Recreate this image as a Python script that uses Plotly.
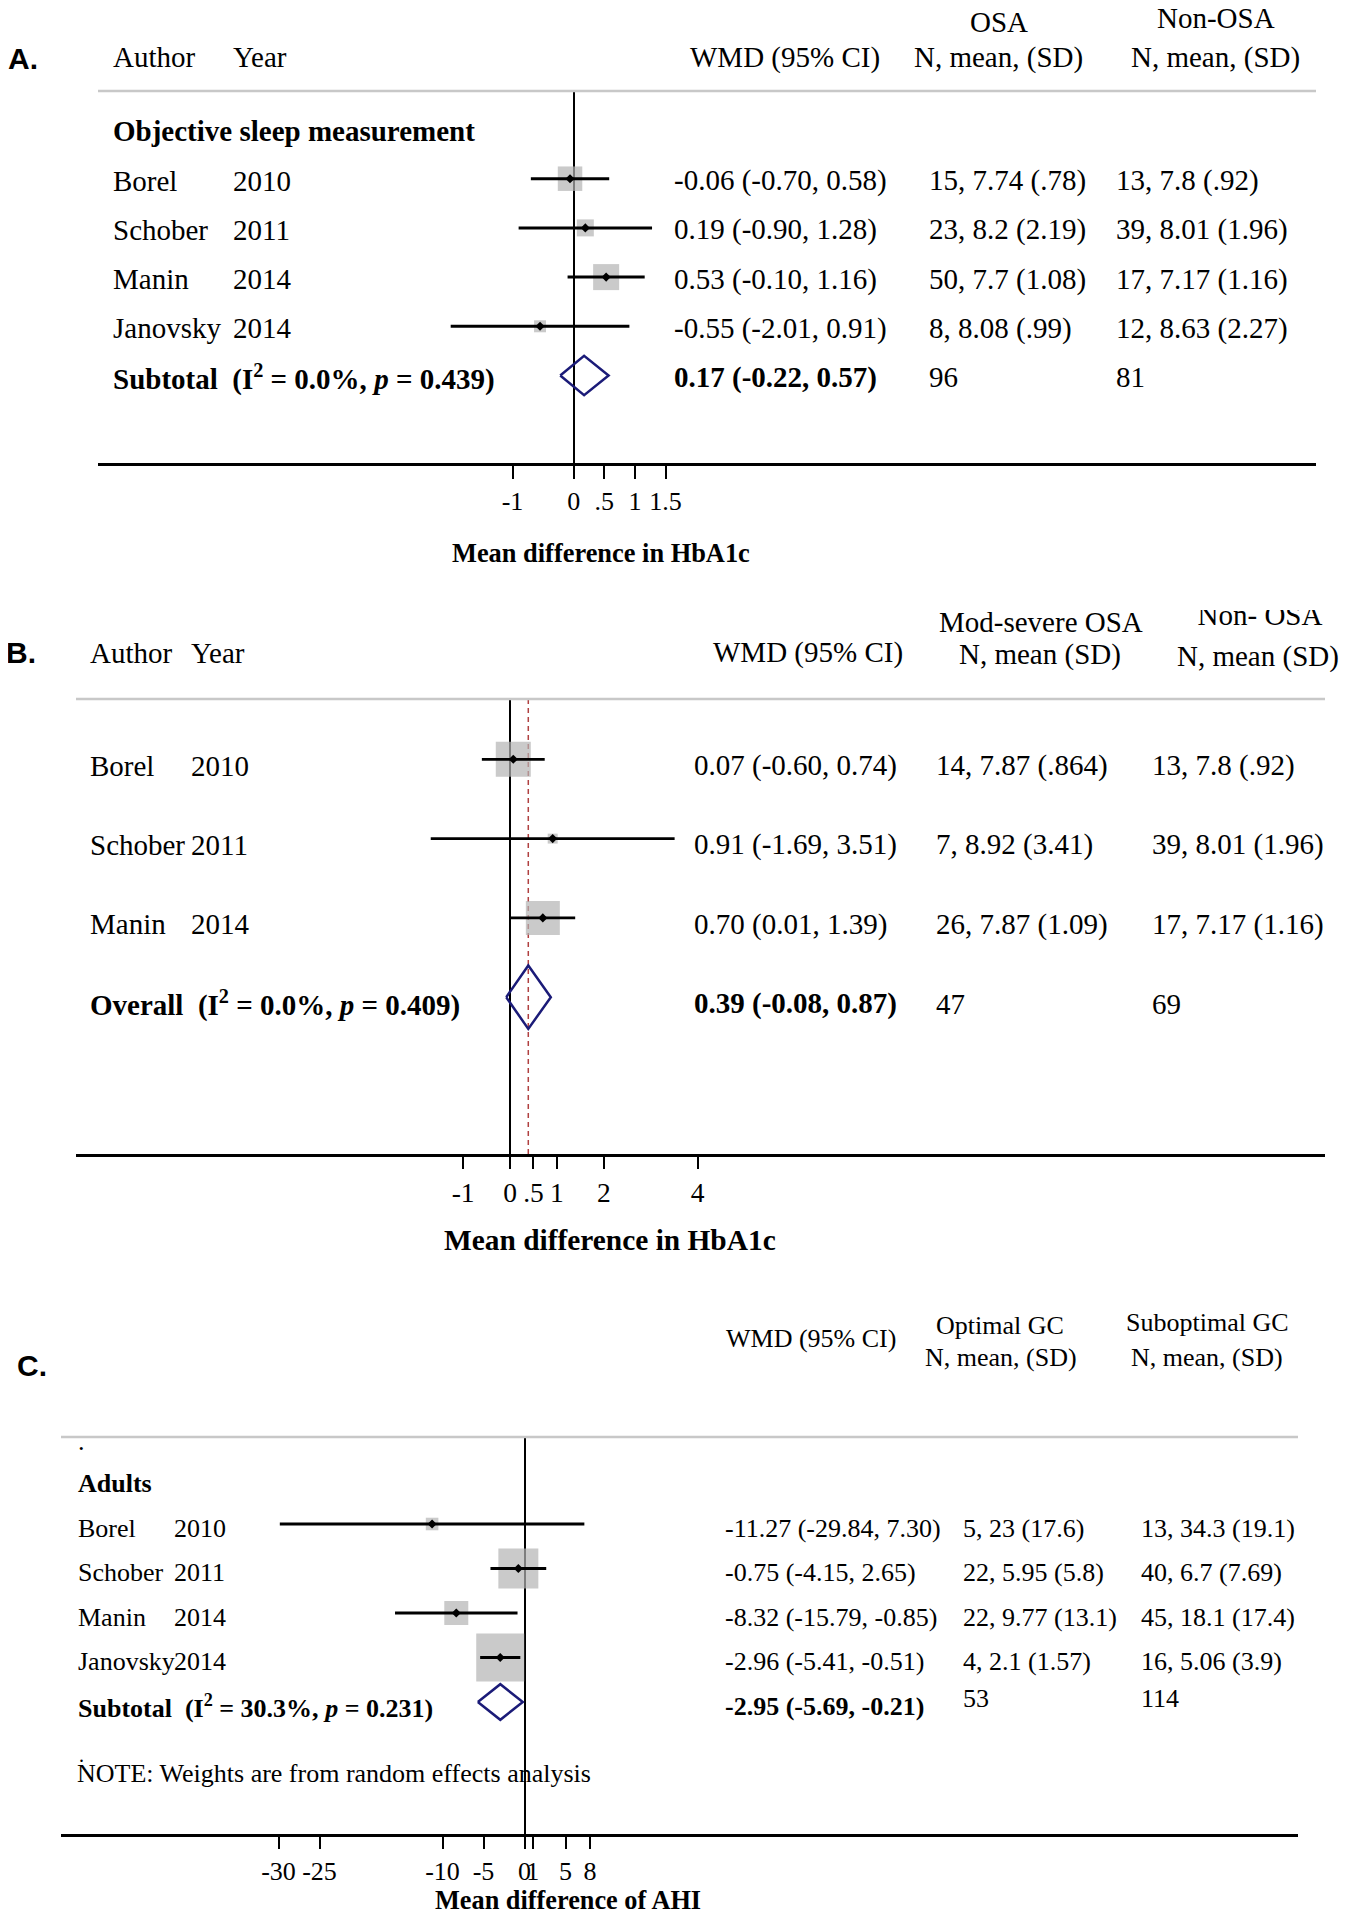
import math
import plotly.graph_objects as go

# page body has an 8px margin; figure coordinates are measured on the page
PAGE_OFF = 8
WF, HF = 1340, 1904
SERIF = "Liberation Serif, Times New Roman, serif"
SANS = "Liberation Sans, Arial, sans-serif"
BOX = "#b4b4b4"
NAVY = "#1b1b78"
REFLINE = "#b04040"

# ---------------- Panel A data ----------------
A_AUTH = ["Borel", "Schober", "Manin", "Janovsky"]
A_YEAR = ["2010", "2011", "2014", "2014"]
A_EST = [-0.06, 0.19, 0.53, -0.55]
A_LO = [-0.70, -0.90, -0.10, -2.01]
A_HI = [0.58, 1.28, 1.16, 0.91]
A_WT = [35.1, 16.9, 39.6, 8.4]
A_G1 = ["15, 7.74 (.78)", "23, 8.2 (2.19)", "50, 7.7 (1.08)", "8, 8.08 (.99)"]
A_G2 = ["13, 7.8 (.92)", "39, 8.01 (1.96)", "17, 7.17 (1.16)", "12, 8.63 (2.27)"]
A_POOL = (0.17, -0.22, 0.57)
A_POOL_N = ("96", "81")
A_TICKS = [-1, 0, 0.5, 1, 1.5]
A_TICKTEXT = ["-1", "0", ".5", "1", "1.5"]

# ---------------- Panel B data ----------------
B_AUTH = ["Borel", "Schober", "Manin"]
B_YEAR = ["2010", "2011", "2014"]
B_EST = [0.07, 0.91, 0.70]
B_LO = [-0.60, -1.69, 0.01]
B_HI = [0.74, 3.51, 1.39]
B_WT = [49.4, 4.0, 46.6]
B_G1 = ["14, 7.87 (.864)", "7, 8.92 (3.41)", "26, 7.87 (1.09)"]
B_G2 = ["13, 7.8 (.92)", "39, 8.01 (1.96)", "17, 7.17 (1.16)"]
B_POOL = (0.39, -0.08, 0.87)
B_POOL_N = ("47", "69")
B_TICKS = [-1, 0, 0.5, 1, 2, 4]
B_TICKTEXT = ["-1", "0", ".5", "1", "2", "4"]

# ---------------- Panel C data ----------------
C_AUTH = ["Borel", "Schober", "Manin", "Janovsky"]
C_YEAR = ["2010", "2011", "2014", "2014"]
C_EST = [-11.27, -0.75, -8.32, -2.96]
C_LO = [-29.84, -4.15, -15.79, -5.41]
C_HI = [7.30, 2.65, -0.85, -0.51]
C_WT = [3.4, 34.5, 12.4, 49.7]
C_G1 = ["5, 23 (17.6)", "22, 5.95 (5.8)", "22, 9.77 (13.1)", "4, 2.1 (1.57)"]
C_G2 = ["13, 34.3 (19.1)", "40, 6.7 (7.69)", "45, 18.1 (17.4)", "16, 5.06 (3.9)"]
C_POOL = (-2.95, -5.69, -0.21)
C_POOL_N = ("53", "114")
C_TICKS = [-30, -25, -10, -5, 0, 1, 5, 8]
C_TICKTEXT = ["-30", "-25", "-10", "-5", "0", "1", "5", "8"]


def fx(p):
    return (p - PAGE_OFF) / WF


def fy(p):
    return 1 - (p - PAGE_OFF) / HF


fig = go.Figure()
annotations = []
shapes = []


def add_text(x_px, y, s, size, anchor="left", yref="paper", bold=False, family=SERIF):
    if yref == "paper":
        y = fy(y)
    if bold:
        s = "<b>" + s + "</b>"
    annotations.append(dict(x=fx(x_px), xref="paper", y=y, yref=yref, text=s,
                            showarrow=False, xanchor=anchor, yanchor="middle",
                            borderpad=0,
                            font=dict(family=family, size=size, color="black")))


def build_panel(idx, g, auth, year, est, lo, hi, wt, g1, g2, pool, pool_n,
                pool_label, group_label, ticks, ticktext):
    sfx = "" if idx == 1 else str(idx)
    xname, yname = "x" + sfx, "y" + sfx
    fig.layout["xaxis" + sfx] = dict(
        domain=[fx(g["xl"]), fx(g["xr"])],
        range=[(g["xl"] - g["zero"]) / g["ppu"], (g["xr"] - g["zero"]) / g["ppu"]],
        anchor=yname, showline=True, linecolor="black", linewidth=2.5,
        ticks="outside", ticklen=g["ticklen"], tickwidth=1.5, tickcolor="black",
        tickmode="array", tickvals=ticks, ticktext=ticktext, tickangle=0,
        tickfont=dict(family=SERIF, size=g["tickfs"], color="black"),
        showgrid=False, zeroline=True, zerolinecolor="black", zerolinewidth=2,
        fixedrange=True)
    fig.layout["yaxis" + sfx] = dict(
        domain=[fy(g["yb"]), fy(g["yt"])],
        range=[(g["yb"] - g["r0"]) / g["rs"], (g["yt"] - g["r0"]) / g["rs"]],
        anchor=xname, visible=False, showgrid=False, zeroline=False, fixedrange=True)

    rows = list(range(1, len(est) + 1))
    prow = len(est) + 1

    # header separator line
    shapes.append(dict(type="line", xref=xname + " domain", yref=yname + " domain",
                       x0=0, x1=1, y0=1, y1=1, line=dict(color="#c8c8c8", width=2.5)))

    sizes = [g["k"] * math.sqrt(w) for w in wt]
    fig.add_trace(go.Scatter(x=est, y=rows, mode="markers", xaxis=xname, yaxis=yname,
                             marker=dict(symbol="square", size=sizes, color=BOX,
                                         line=dict(width=0)),
                             hoverinfo="skip", showlegend=False))
    cx, cy = [], []
    for l, h, r in zip(lo, hi, rows):
        cx += [l, h, None]
        cy += [r, r, None]
    fig.add_trace(go.Scatter(x=cx, y=cy, mode="lines", xaxis=xname, yaxis=yname,
                             line=dict(color="black", width=g["ciw"]),
                             hoverinfo="skip", showlegend=False))
    fig.add_trace(go.Scatter(x=est, y=rows, mode="markers", xaxis=xname, yaxis=yname,
                             marker=dict(symbol="diamond", size=7, color="black",
                                         line=dict(width=0)),
                             hoverinfo="skip", showlegend=False))
    pe, pl, ph = pool
    hh = 0.4
    fig.add_trace(go.Scatter(x=[pl, pe, ph, pe, pl],
                             y=[prow, prow - hh, prow, prow + hh, prow],
                             mode="lines", xaxis=xname, yaxis=yname,
                             line=dict(color=NAVY, width=2.5),
                             hoverinfo="skip", showlegend=False))

    fs = g["fs"]
    to = g["toff"]
    c = g["cols"]
    if group_label:
        add_text(c["auth"], 0 + to, group_label, fs, yref=yname, bold=True)
    for a, yr, e, l, h, s1, s2, r in zip(auth, year, est, lo, hi, g1, g2, rows):
        add_text(c["auth"], r + to, a, fs, yref=yname)
        add_text(c["year"], r + to, yr, fs, yref=yname)
        add_text(c["wmd"], r + to, f"{e:.2f} ({l:.2f}, {h:.2f})", fs, yref=yname)
        add_text(c["g1"], r + to, s1, fs, yref=yname)
        add_text(c["g2"], r + to, s2, fs, yref=yname)
    add_text(c["auth"], prow + to, pool_label, fs, yref=yname, bold=True)
    add_text(c["wmd"], prow + to, f"{pe:.2f} ({pl:.2f}, {ph:.2f})", fs, yref=yname, bold=True)
    add_text(c["g1"], prow + to + g["noff"], pool_n[0], fs, yref=yname)
    add_text(c["g2"], prow + to + g["noff"], pool_n[1], fs, yref=yname)
    return xname, yname


GEO_A = dict(xl=98, xr=1316, zero=573.7, ppu=61.2, yt=91, yb=463, r0=129.5, rs=49.2,
             ticklen=13, tickfs=26, k=4.135, ciw=3, fs=29, toff=0.04, noff=0.0,
             cols=dict(auth=112, year=232, wmd=673, g1=928, g2=1115))
GEO_B = dict(xl=76, xr=1325, zero=510, ppu=46.9, yt=699, yb=1154, r0=680, rs=79.3,
             ticklen=12, tickfs=27.5, k=4.98, ciw=2.8, fs=29, toff=0.08, noff=0.0,
             cols=dict(auth=89, year=190, wmd=693, g1=935, g2=1151))
GEO_C = dict(xl=61, xr=1298, zero=524.5, ppu=8.2, yt=1437, yb=1834, r0=1479.5, rs=44.5,
             ticklen=12, tickfs=26, k=6.81, ciw=3, fs=26, toff=0.09, noff=-0.16,
             cols=dict(auth=77, year=173, wmd=723.5, g1=962, g2=1140))

build_panel(1, GEO_A, A_AUTH, A_YEAR, A_EST, A_LO, A_HI, A_WT, A_G1, A_G2, A_POOL, A_POOL_N,
            "Subtotal\u00a0 (I<sup>2</sup> = 0.0%, <i>p</i> = 0.439)",
            "Objective sleep measurement", A_TICKS, A_TICKTEXT)
xb, yb = build_panel(2, GEO_B, B_AUTH, B_YEAR, B_EST, B_LO, B_HI, B_WT, B_G1, B_G2, B_POOL, B_POOL_N,
                     "Overall\u00a0 (I<sup>2</sup> = 0.0%, <i>p</i> = 0.409)",
                     None, B_TICKS, B_TICKTEXT)
xc, yc = build_panel(3, GEO_C, C_AUTH, C_YEAR, C_EST, C_LO, C_HI, C_WT, C_G1, C_G2, C_POOL, C_POOL_N,
                     "Subtotal\u00a0 (I<sup>2</sup> = 30.3%, <i>p</i> = 0.231)",
                     "Adults", C_TICKS, C_TICKTEXT)

# dashed overall-effect line in panel B (drawn beneath the study boxes)
shapes.append(dict(type="line", xref=xb, yref=yb + " domain", x0=B_POOL[0], x1=B_POOL[0],
                   y0=0, y1=1, layer="below",
                   line=dict(color=REFLINE, width=1.5, dash="5px,4px")))

# "Non- OSA" header whose top is cropped in the source figure: drawn as a text
# trace in a small helper plot area so that it is clipped at the area's top edge
fig.layout["xaxis4"] = dict(domain=[fx(1150), fx(1346)], range=[0, 1], anchor="y4",
                            visible=False, fixedrange=True)
fig.layout["yaxis4"] = dict(domain=[fy(640), fy(610)], range=[0, 1], anchor="x4",
                            visible=False, fixedrange=True)
fig.add_trace(go.Scatter(x=[(1260 - 1150) / (1346 - 1150)], y=[(640 - 618) / (640 - 610)],
                         mode="text", text=["Non- OSA"], textposition="middle center",
                         textfont=dict(family=SERIF, size=29, color="black"),
                         cliponaxis=True, xaxis="x4", yaxis="y4",
                         hoverinfo="skip", showlegend=False))

# ---------------- headers ----------------
# Panel A
add_text(7, 58, "A.", 30, bold=True, family=SANS)
add_text(112, 57, "Author", 29)
add_text(232, 57, "Year", 29)
add_text(785, 57, "WMD (95% CI)", 29, anchor="center")
add_text(999, 22, "OSA", 29, anchor="center")
add_text(998, 57, "N, mean, (SD)", 29, anchor="center")
add_text(1216, 18, "Non-OSA", 29, anchor="center")
add_text(1215, 57, "N, mean, (SD)", 29, anchor="center")
add_text(601, 553, "Mean difference in HbA1c", 26.4, anchor="center", bold=True)

# Panel B
add_text(5, 652, "B.", 30, bold=True, family=SANS)
add_text(89, 653, "Author", 29)
add_text(190, 653, "Year", 29)
add_text(808, 652, "WMD (95% CI)", 29, anchor="center")
add_text(1041, 622, "Mod-severe OSA", 29, anchor="center")
add_text(1040, 654, "N, mean (SD)", 29, anchor="center")
add_text(1258, 656, "N, mean (SD)", 29, anchor="center")
add_text(610, 1240, "Mean difference in HbA1c", 29.4, anchor="center", bold=True)

# Panel C
add_text(16, 1365, "C.", 30, bold=True, family=SANS)
add_text(811, 1338, "WMD (95% CI)", 26, anchor="center")
add_text(1000, 1325, "Optimal GC", 26, anchor="center")
add_text(1001, 1357, "N, mean, (SD)", 26, anchor="center")
add_text(1207, 1322, "Suboptimal GC", 26, anchor="center")
add_text(1207, 1357, "N, mean, (SD)", 26, anchor="center")
add_text(77, 1441, ".", 26)
add_text(76, 1773, "NOTE: Weights are from random effects analysis", 26)
add_text(78, 1755, ".", 20)
add_text(568, 1900, "Mean difference of AHI", 26.3, anchor="center", bold=True)

fig.update_layout(width=WF, height=HF, margin=dict(l=0, r=0, t=0, b=0),
                  paper_bgcolor="white", plot_bgcolor="white", showlegend=False,
                  annotations=annotations, shapes=shapes)

fig.write_html("out.html")
